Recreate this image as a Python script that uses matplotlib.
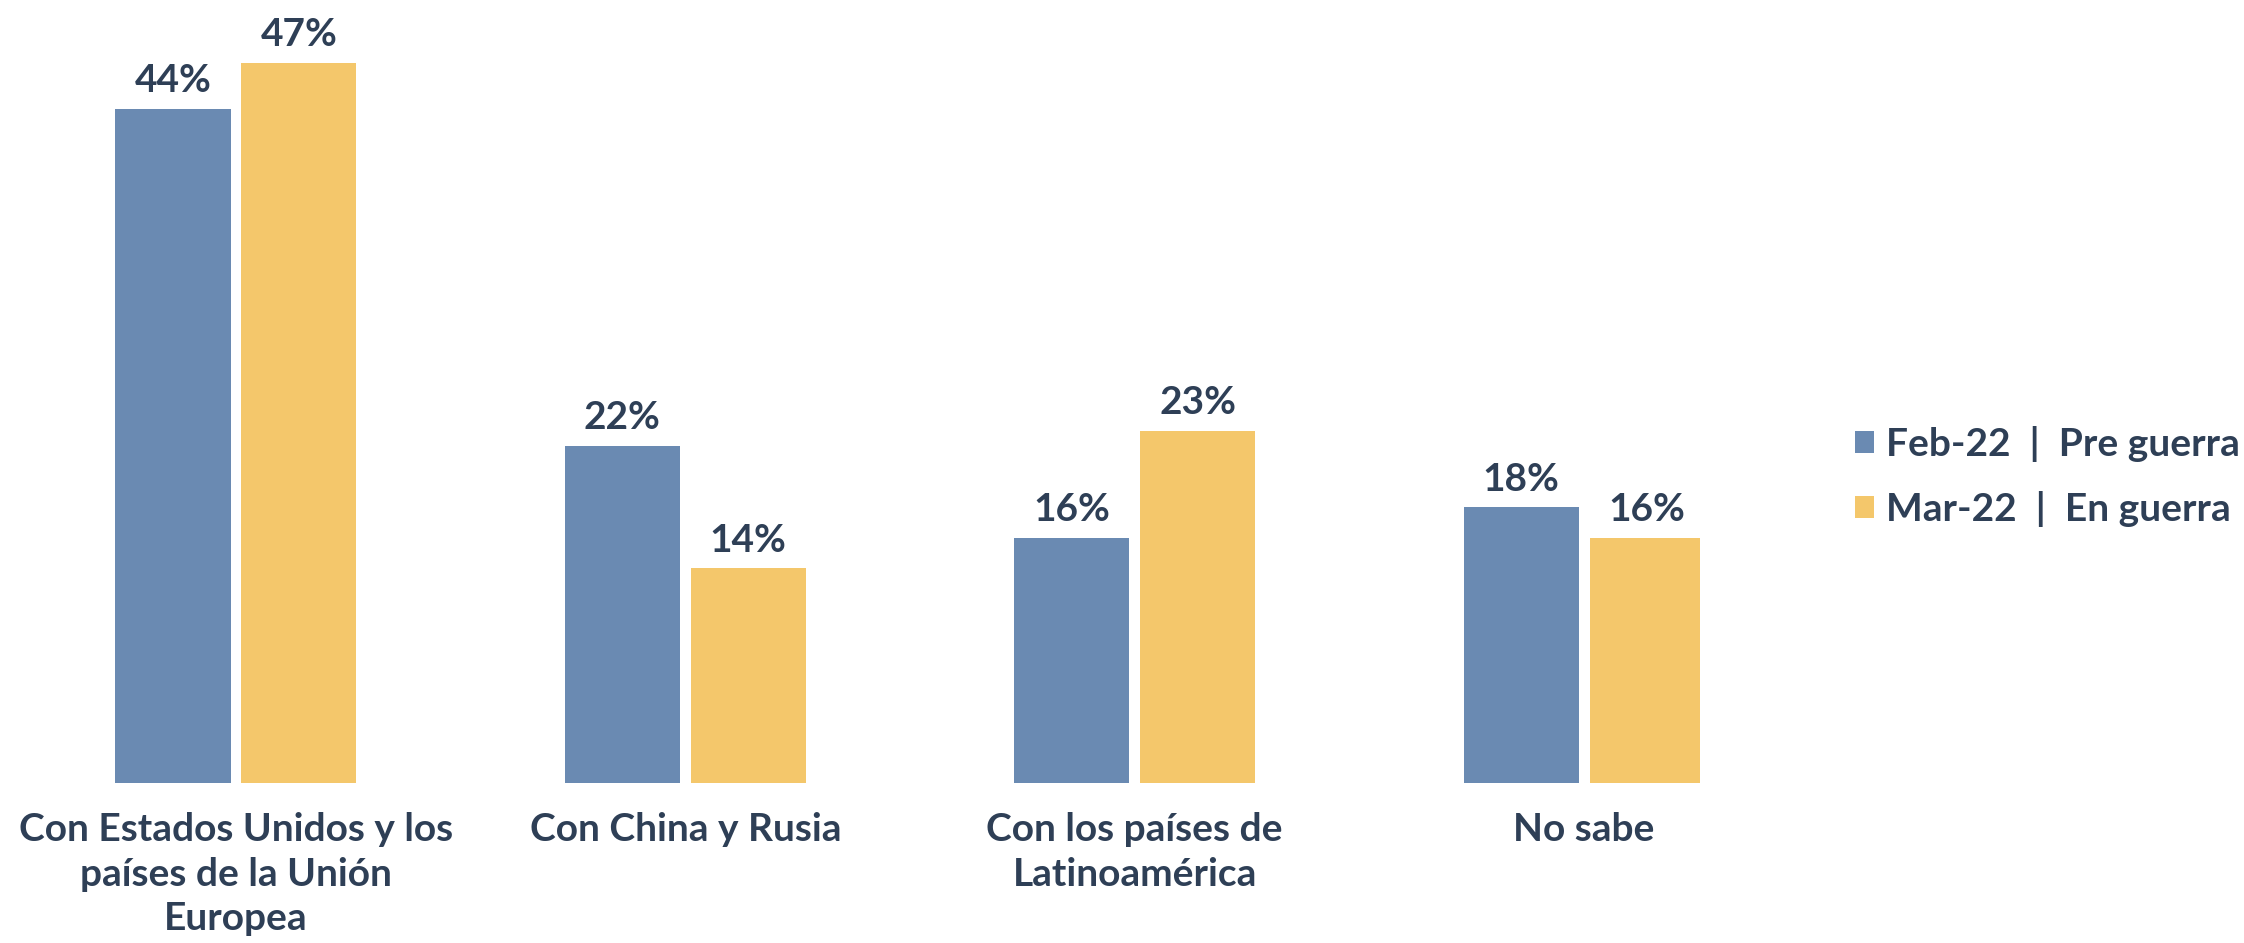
import numpy as np
import matplotlib
matplotlib.use("Agg")
import matplotlib.pyplot as plt

categories = ["Con Estados Unidos y los\npaíses de la Unión\nEuropea",
              "Con China y Rusia",
              "Con los países de\nLatinoamérica",
              "No sabe"]
feb = [44, 22, 16, 18]
mar = [47, 14, 23, 16]
series_names = ["Feb-22  |  Pre guerra", "Mar-22  |  En guerra"]

blue = "#6A8AB2"
yellow = "#F4C76B"
txt = "#2E3F56"

plt.rcParams['font.family'] = ['Lato', 'DejaVu Sans']
plt.rcParams['font.weight'] = 'bold'

fig = plt.figure(figsize=(22.44, 9.43), dpi=100)
ax = fig.add_axes([0, 0.1697, 0.7576, 0.8123])

x = np.arange(len(categories))
w = 0.256
off = 0.14
b1 = ax.bar(x - off, feb, w, color=blue, label=series_names[0])
b2 = ax.bar(x + off, mar, w, color=yellow, label=series_names[1])

for bars, vals in ((b1, feb), (b2, mar)):
    for rect, v in zip(bars, vals):
        ax.annotate(f"{v}%", (rect.get_x() + rect.get_width() / 2, v),
                    xytext=(0, 12), textcoords="offset points",
                    ha="center", va="baseline", fontsize=28,
                    fontweight="bold", color=txt)

ax.set_xlim(-0.525, 3.258)
ax.set_ylim(0, 50)
ax.set_xticks(x)
ax.set_xticklabels(categories, fontsize=28, fontweight="bold", color=txt,
                   linespacing=1.33)
ax.tick_params(axis="x", length=0, pad=21)
ax.set_yticks([])
for s in ax.spines.values():
    s.set_visible(False)

fig.legend(handles=[b1, b2], loc="center left",
           bbox_to_anchor=(0.8265, 0.495), frameon=False,
           handlelength=0.5, handleheight=0.5, handletextpad=0.3,
           labelspacing=0.75, borderpad=0, borderaxespad=0,
           prop={"size": 28, "weight": "bold"}, labelcolor=txt)

fig.savefig("out.png", dpi=100)
